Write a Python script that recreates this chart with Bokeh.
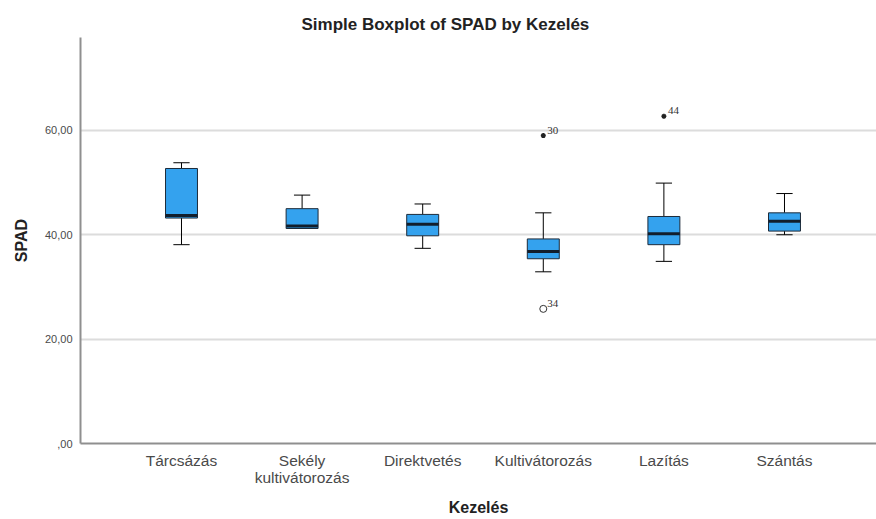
from bokeh.plotting import figure
from bokeh.models import Range1d, FixedTicker, Title, ColumnDataSource
from bokeh.embed import file_html
from bokeh.resources import INLINE

categories = ["Tárcsázás", "Sekély\nkultivátorozás", "Direktvetés", "Kultivátorozás", "Lazítás", "Szántás"]
whisker_low = [38.1, 41.2, 37.4, 32.9, 34.9, 40.0]
q1 = [43.2, 41.2, 39.8, 35.4, 38.1, 40.7]
median = [43.7, 41.7, 42.0, 36.8, 40.2, 42.6]
q3 = [52.7, 45.0, 43.9, 39.2, 43.5, 44.2]
whisker_high = [53.8, 47.6, 45.9, 44.2, 49.9, 47.9]

extreme_cat = [3, 4]
extreme_val = [59.0, 62.7]
extreme_lbl = ["30", "44"]
outlier_cat = [3]
outlier_val = [25.8]
outlier_lbl = ["34"]

y_ticks = [0, 20, 40, 60]
y_tick_labels = [",00", "20,00", "40,00", "60,00"]

FONT = "Liberation Sans"
BOX_W = 0.265
CAP_W = 0.135

idx = list(range(len(categories)))
src = ColumnDataSource(dict(
    x=idx, lo=whisker_low, q1=q1, med=median, q3=q3, hi=whisker_high,
    cl=[i - CAP_W / 2 for i in idx], cr=[i + CAP_W / 2 for i in idx],
    ml=[i - BOX_W / 2 for i in idx], mr=[i + BOX_W / 2 for i in idx],
))

p = figure(width=876, height=519, output_backend="svg", toolbar_location=None,
           x_range=Range1d(-0.8375, 5.763), y_range=Range1d(0, 77.8),
           min_border_left=80, min_border_right=0, min_border_top=37, min_border_bottom=76)
p.outline_line_color = None
p.background_fill_color = "white"

t = Title(text="Simple Boxplot of SPAD by Kezelés", align="left", offset=221,
          text_font=FONT, text_font_size="17px", text_font_style="bold", text_color="#222222",
          standoff=7)
p.title = t

# whiskers
p.segment(x0="x", y0="lo", x1="x", y1="q1", source=src, line_color="black", line_width=1)
p.segment(x0="x", y0="q3", x1="x", y1="hi", source=src, line_color="black", line_width=1)
p.segment(x0="cl", y0="lo", x1="cr", y1="lo", source=src, line_color="black", line_width=1)
p.segment(x0="cl", y0="hi", x1="cr", y1="hi", source=src, line_color="black", line_width=1)
# boxes
p.vbar(x="x", width=BOX_W, bottom="q1", top="q3", source=src,
       fill_color="#34a2ee", line_color="#1d2b3a", line_width=1)
p.segment(x0="ml", y0="med", x1="mr", y1="med", source=src, line_color="#121e2c", line_width=3)

# outliers
ext = ColumnDataSource(dict(x=extreme_cat, y=extreme_val, t=extreme_lbl))
out = ColumnDataSource(dict(x=outlier_cat, y=outlier_val, t=outlier_lbl))
p.scatter(x="x", y="y", source=ext, marker="asterisk", size=5, line_color="#222222", line_width=1.5)
p.scatter(x="x", y="y", source=out, marker="circle", size=7, fill_color="white", line_color="#333333", line_width=1)
for s in (ext, out):
    p.text(x="x", y="y", text="t", source=s, x_offset=4, y_offset=-2,
           text_font="Liberation Sans", text_font_size="11px", text_color="#333333",
           text_baseline="bottom", text_align="left")

# grids
p.xgrid.grid_line_color = None
p.ygrid.ticker = FixedTicker(ticks=[20, 40, 60])
p.ygrid.grid_line_color = "#dcdcdc"
p.ygrid.grid_line_width = 2

# y axis
p.yaxis.ticker = FixedTicker(ticks=y_ticks)
p.yaxis.major_label_overrides = {v: l for v, l in zip(y_ticks, y_tick_labels)}
p.yaxis.axis_label = "SPAD"
# x axis
p.xaxis.ticker = FixedTicker(ticks=idx)
p.xaxis.major_label_overrides = {i: c for i, c in zip(idx, categories)}
p.xaxis.axis_label = "Kezelés"

for ax in (p.xaxis[0], p.yaxis[0]):
    ax.axis_line_color = "#8f8f8f"
    ax.axis_line_width = 2
    ax.major_tick_line_color = None
    ax.minor_tick_line_color = None
    ax.major_tick_out = 0
    ax.major_tick_in = 0
    ax.axis_label_text_font = FONT
    ax.axis_label_text_font_style = "bold"
    ax.axis_label_text_font_size = "16px"
    ax.axis_label_text_color = "#222222"
    ax.major_label_text_font = FONT
    ax.major_label_text_color = "#4a4a4a"

p.yaxis.major_label_text_font_size = "11px"
p.yaxis.major_label_standoff = 8
p.yaxis.axis_label_standoff = 12
p.xaxis.major_label_text_font_size = "15.5px"
p.xaxis.major_label_text_line_height = 1.05
p.xaxis.major_label_standoff = 8
p.xaxis.axis_label_standoff = 10

open("out.html", "w").write(file_html(p, INLINE))
